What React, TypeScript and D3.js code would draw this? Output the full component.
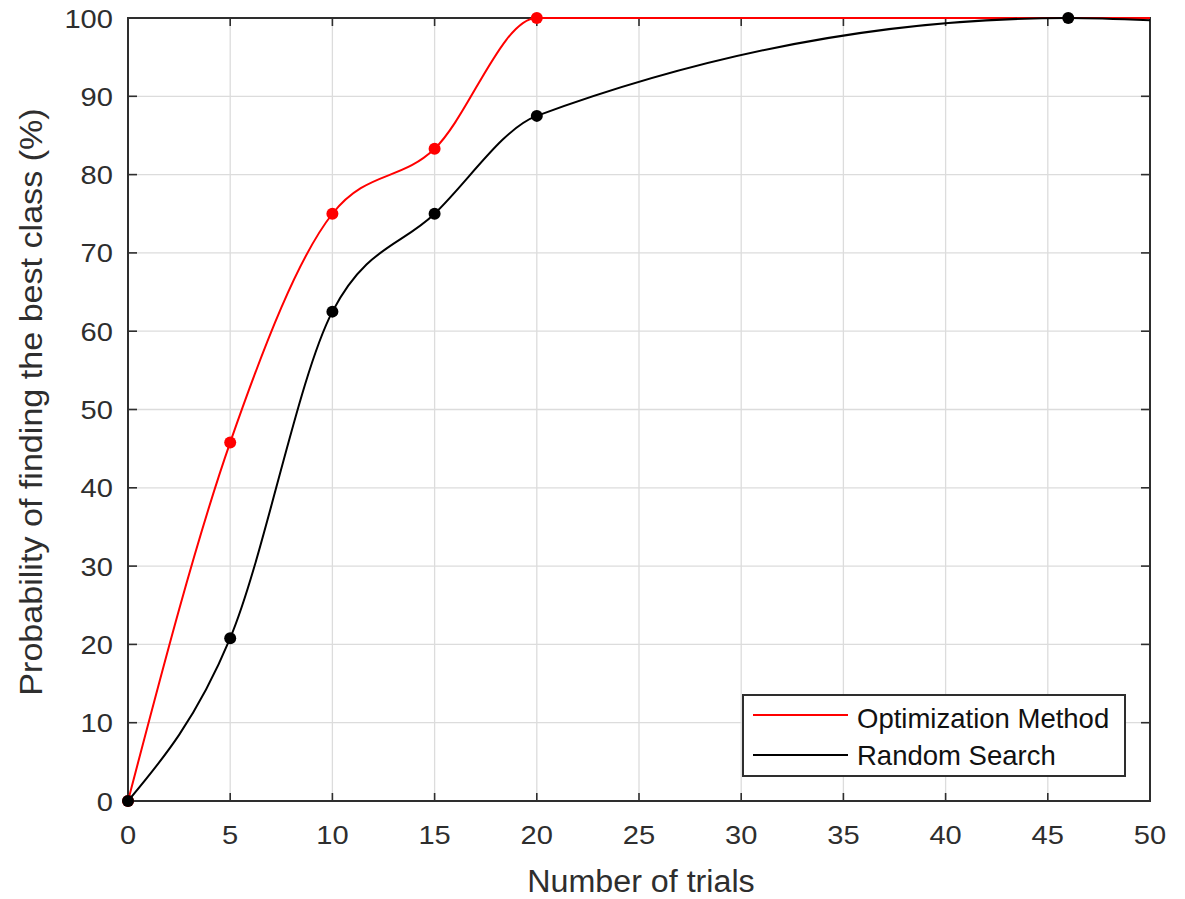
import React from "react";
import * as d3 from "d3";

const optX = [0, 5, 10, 15, 20, 50];
const optY = [0, 45.8, 75, 83.3, 100, 100];
const optMarked = 5;
const randX = [0, 5, 10, 15, 20, 46, 50];
const randY = [0, 20.8, 62.5, 75, 87.5, 100, 99.7];
const randMarked = 6;
const xTicks = [0, 5, 10, 15, 20, 25, 30, 35, 40, 45, 50];
const yTicks = [0, 10, 20, 30, 40, 50, 60, 70, 80, 90, 100];
const seriesNames = ["Optimization Method", "Random Search"];
const xLabel = "Number of trials";
const yLabel = "Probability of finding the best class (%)";

const W = 1185, H = 899;
const L = 128, R = 1150, T = 18, B = 801;
const FONT = "'Liberation Sans', Arial, Helvetica, sans-serif";
const AX = "#2e2e2e";

export default function App() {
  const x = d3.scaleLinear().domain([0, 50]).range([L, R]);
  const y = d3.scaleLinear().domain([0, 100]).range([B, T]);
  const line = d3
    .line<[number, number]>()
    .x((d) => x(d[0]))
    .y((d) => y(d[1]))
    .curve(d3.curveMonotoneX);
  const opt: [number, number][] = optX.map((v, i) => [v, optY[i]]);
  const rnd: [number, number][] = randX.map((v, i) => [v, randY[i]]);

  return (
    <svg width={W} height={H} style={{ position: "absolute", left: 0, top: 0, background: "#fff" }}>
      <rect x={0} y={0} width={W} height={H} fill="#fff" />
      {xTicks.map((t) => (
        <line key={"gx" + t} x1={x(t)} x2={x(t)} y1={T} y2={B} stroke="#dcdcdc" strokeWidth={1.3} />
      ))}
      {yTicks.map((t) => (
        <line key={"gy" + t} x1={L} x2={R} y1={y(t)} y2={y(t)} stroke="#dcdcdc" strokeWidth={1.3} />
      ))}
      {xTicks.map((t) => (
        <g key={"tx" + t}>
          <line x1={x(t)} x2={x(t)} y1={B} y2={B - 8} stroke={AX} strokeWidth={1.6} />
          <line x1={x(t)} x2={x(t)} y1={T} y2={T + 8} stroke={AX} strokeWidth={1.6} />
          <text
            transform={`translate(${x(t)},${844}) scale(1.12,1)`}
            textAnchor="middle"
            fontFamily={FONT}
            fontSize={26}
            fill={AX}
          >
            {t}
          </text>
        </g>
      ))}
      {yTicks.map((t) => (
        <g key={"ty" + t}>
          <line x1={L} x2={L + 9} y1={y(t)} y2={y(t)} stroke={AX} strokeWidth={1.6} />
          <line x1={R} x2={R - 9} y1={y(t)} y2={y(t)} stroke={AX} strokeWidth={1.6} />
          <text
            transform={`translate(${113},${y(t) + 9.5}) scale(1.12,1)`}
            textAnchor="end"
            fontFamily={FONT}
            fontSize={26}
            fill={AX}
          >
            {t}
          </text>
        </g>
      ))}
      <rect x={L} y={T} width={R - L} height={B - T} fill="none" stroke={AX} strokeWidth={2} />
      <path d={line(opt) || ""} fill="none" stroke="#ff0000" strokeWidth={2} />
      {opt.slice(0, optMarked).map((d, i) => (
        <circle key={"om" + i} cx={x(d[0])} cy={y(d[1])} r={6} fill="#ff0000" />
      ))}
      <path d={line(rnd) || ""} fill="none" stroke="#000" strokeWidth={2} />
      {rnd.slice(0, randMarked).map((d, i) => (
        <circle key={"rm" + i} cx={x(d[0])} cy={y(d[1])} r={6} fill="#000" />
      ))}
      <text
        transform={`translate(${641},${892}) scale(1.04,1)`}
        textAnchor="middle"
        fontFamily={FONT}
        fontSize={31}
        fill={AX}
      >
        {xLabel}
      </text>
      <text
        transform={`translate(${42},${402}) rotate(-90) scale(1.1,1)`}
        textAnchor="middle"
        fontFamily={FONT}
        fontSize={31}
        fill={AX}
      >
        {yLabel}
      </text>
      <rect x={743} y={695} width={382} height={81} fill="#fff" stroke={AX} strokeWidth={2} />
      <line x1={753} x2={848} y1={715} y2={715} stroke="#ff0000" strokeWidth={2} />
      <line x1={753} x2={848} y1={755} y2={755} stroke="#000" strokeWidth={2} />
      <text x={857} y={728} fontFamily={FONT} fontSize={27.5} fill="#111">
        {seriesNames[0]}
      </text>
      <text x={857} y={765} fontFamily={FONT} fontSize={27.5} fill="#111">
        {seriesNames[1]}
      </text>
    </svg>
  );
}
